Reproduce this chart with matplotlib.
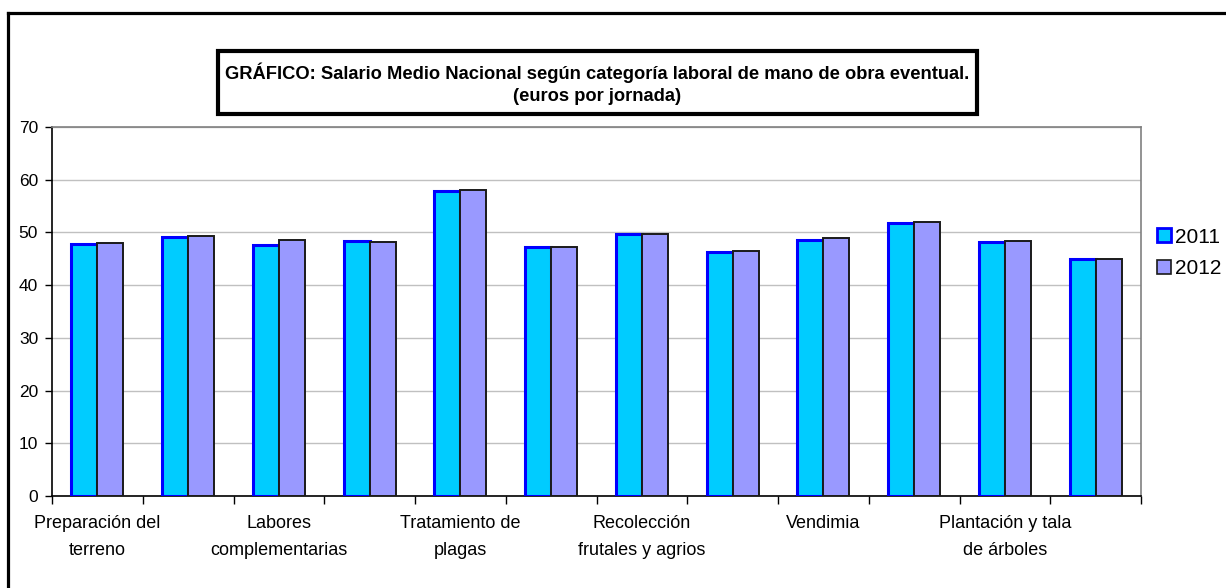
import matplotlib
matplotlib.use("Agg")
import matplotlib.pyplot as plt
import numpy as np
from matplotlib.patches import Rectangle
from matplotlib.lines import Line2D

plt.rcParams['font.family'] = ['Liberation Sans', 'DejaVu Sans']

categories = [
    "Preparación del\nterreno", "Siembra y abonado", "Labores\ncomplementarias", "Riegos",
    "Tratamiento de\nplagas", "Recolección productos herbáceos", "Recolección\nfrutales y agrios",
    "Recolección aceituna", "Vendimia", "Poda", "Plantación y tala\nde árboles", "Pastoreo",
]
series_names = ["2011", "2012"]
values_2011 = [47.8, 49.2, 47.6, 48.3, 57.9, 47.3, 49.7, 46.2, 48.6, 51.8, 48.2, 45.0]
values_2012 = [47.9, 49.3, 48.5, 48.1, 58.1, 47.3, 49.7, 46.4, 48.9, 52.0, 48.3, 45.0]
yticks = [0, 10, 20, 30, 40, 50, 60, 70]
title_text = "GRÁFICO: Salario Medio Nacional según categoría laboral de mano de obra eventual.\n(euros por jornada)"

W, H = 1226, 588
fig = plt.figure(figsize=(W / 100, H / 100), dpi=100)

def fx(px):
    return px / W

def fy(py):
    return 1 - py / H

ax = fig.add_axes([fx(52), fy(496), fx(1141) - fx(52), fy(127) - fy(496)])

x = np.arange(len(categories))
w = 0.286
ax.bar(x - w / 2, values_2011, w, color="#00CCFF", edgecolor="#0000FF", linewidth=2.2, zorder=3, label=series_names[0])
ax.bar(x + w / 2, values_2012, w, color="#9999FF", edgecolor="#1a1a1a", linewidth=1.4, zorder=3, label=series_names[1])

ax.set_xlim(-0.5, len(categories) - 0.5)
ax.set_ylim(0, 70)
ax.set_yticks(yticks)
ax.set_yticklabels([str(t) for t in yticks], fontsize=12.5)
ax.yaxis.grid(True, color="#C0C0C0", linewidth=1, zorder=0)
ax.set_axisbelow(True)

ax.set_xticks(np.arange(-0.5, len(categories), 1.0))
ax.set_xticklabels([])
ax.set_xticks(x[::2], minor=True)
ax.set_xticklabels(categories[::2], minor=True, fontsize=13, linespacing=1.75, va="top")
ax.tick_params(axis="x", which="minor", length=0, pad=14)
ax.tick_params(axis="x", which="major", length=6, width=1, color="black")
ax.tick_params(axis="y", length=5, width=1, pad=5)

for s in ["left", "bottom"]:
    ax.spines[s].set_color("black")
    ax.spines[s].set_linewidth(1.2)
for s in ["top", "right"]:
    ax.spines[s].set_color("#808080")
    ax.spines[s].set_linewidth(1.2)

# legend
handles = [
    Rectangle((0, 0), 1, 1, facecolor="#00CCFF", edgecolor="#0000FF", linewidth=2),
    Rectangle((0, 0), 1, 1, facecolor="#9999FF", edgecolor="#1a1a1a", linewidth=1.2),
]
fig.legend(handles, series_names, loc="center left", bbox_to_anchor=(fx(1157), fy(253)),
           frameon=False, fontsize=15, handlelength=0.68, handleheight=0.68,
           handletextpad=0.2, labelspacing=0.62, borderaxespad=0, borderpad=0)

# title box
fig.patches.append(Rectangle((fx(218), fy(114)), fx(977) - fx(218), fy(51) - fy(114),
                             transform=fig.transFigure, facecolor="white", edgecolor="black",
                             linewidth=3, zorder=5))
fig.text(fx(597), fy(84), title_text, ha="center", va="center", fontsize=13.2,
         fontweight="bold", linespacing=1.4, zorder=6)

# outer frame
fig.add_artist(Line2D([fx(8), fx(8)], [fy(13), 0], transform=fig.transFigure, color="black", linewidth=2.3))
fig.add_artist(Line2D([fx(8), 1], [fy(13), fy(13)], transform=fig.transFigure, color="black", linewidth=2.3))

fig.savefig("out.png", dpi=100)
